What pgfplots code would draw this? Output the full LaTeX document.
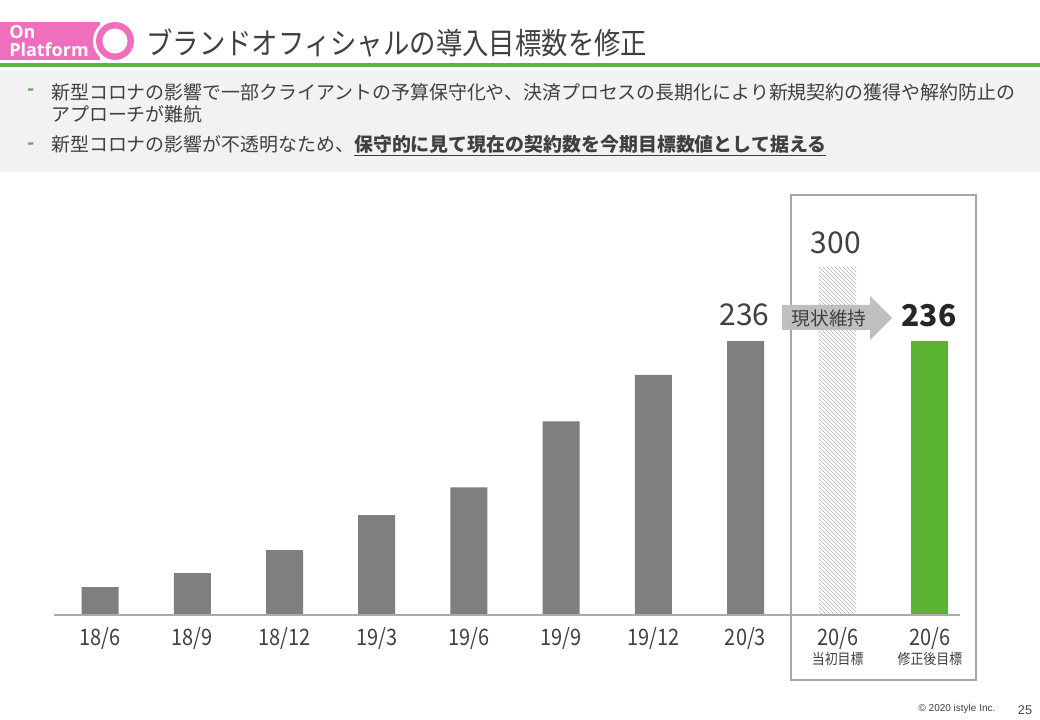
\documentclass[border=0pt]{standalone}
\usepackage{fontspec}
\usepackage{pgfplots}
\pgfplotsset{compat=1.18}
\usetikzlibrary{patterns}
\setmainfont{Noto Sans CJK JP}
\newfontfamily\titlefont[FakeStretch=0.88]{Noto Sans CJK JP}
\newfontfamily\narrowfont[FakeStretch=0.88]{Noto Sans CJK JP}
\newfontfamily\logofont{Open Sans}
\newfontfamily\arialfont{Liberation Sans}
\definecolor{pinkc}{RGB}{240,110,190}
\definecolor{greenline}{RGB}{100,175,80}
\definecolor{greenbar}{RGB}{90,180,50}
\definecolor{graybar}{RGB}{127,127,127}
\definecolor{lightbg}{RGB}{242,242,242}
\definecolor{txt}{RGB}{64,64,64}
\definecolor{boxgray}{RGB}{166,166,166}
\definecolor{hatch}{RGB}{180,180,180}
\definecolor{arrowgray}{RGB}{191,191,191}
\definecolor{basegray}{RGB}{170,170,170}
\newcommand\sublab[1]{{\fontsize{11pt}{13pt}\selectfont #1}}
\begin{document}
\begin{tikzpicture}
\begin{scope}[x=0.75pt,y=-0.75pt]
\fill[white] (0,0) rectangle (1040,720);
% header
\fill[pinkc] (0,22) rectangle (100,60);
\fill[white] (115,41) circle (16.5pt);
\fill[pinkc] (115,41) circle (14.25pt);
\fill[white] (115,41) circle (9.4pt);
\node[anchor=west, text=white, font=\logofont\bfseries\fontsize{13.5pt}{14pt}\selectfont, inner sep=0pt] at (9,32) {On};
\node[anchor=west, text=white, font=\logofont\bfseries\fontsize{13.5pt}{14pt}\selectfont, inner sep=0pt] at (9,50) {Platform};
\node[anchor=west, text=txt, font=\titlefont\fontsize{22.5pt}{26pt}\selectfont, inner sep=0pt] at (146,43) {ブランドオフィシャルの導入目標数を修正};
\draw[greenline, line width=3pt] (0,65) -- (1040,65);
% gray text box
\fill[lightbg] (0,70) rectangle (1040,172);
\node[anchor=west, text=greenline, font=\fontsize{14.2pt}{17pt}\selectfont\bfseries, inner sep=0pt] at (27,92) {-};
\node[anchor=west, text=greenline, font=\fontsize{14.2pt}{17pt}\selectfont\bfseries, inner sep=0pt] at (27,146) {-};
\node[anchor=west, text=txt, font=\fontsize{14.2pt}{17pt}\selectfont, inner sep=0pt] at (51,92) {新型コロナの影響で一部クライアントの予算保守化や、決済プロセスの長期化により新規契約の獲得や解約防止の};
\node[anchor=west, text=txt, font=\fontsize{14.2pt}{17pt}\selectfont, inner sep=0pt] at (51,114) {アプローチが難航};
\node[anchor=west, text=txt, font=\fontsize{14.2pt}{17pt}\selectfont, inner sep=0pt] at (51,146) {新型コロナの影響が不透明なため、\underline{\bfseries 保守的に見て現在の契約数を今期目標数値として据える}};
% highlight box
\draw[boxgray, line width=0.8pt] (791,195) rectangle (976,680);
% footer
\node[text=txt, font=\arialfont\fontsize{7.5pt}{9pt}\selectfont, inner sep=0pt] at (957,709) {© 2020 istyle Inc.};
\node[text=txt, font=\arialfont\fontsize{9.5pt}{11pt}\selectfont, inner sep=0pt] at (1025,710) {25};
\end{scope}
\begin{axis}[
  at={(40.5pt,-461.25pt)}, anchor=south west,
  scale only axis, width=691.5pt, height=348pt,
  xmin=-0.5, xmax=9.5, ymin=0, ymax=400,
  axis line style={draw=none}, ytick=\empty,
  xtick={0,...,9},
  xticklabels={18/6,18/9,18/12,19/3,19/6,19/9,19/12,20/3,{20/6\\[-6pt]\sublab{当初目標}},{20/6\\[-6pt]\sublab{修正後目標}}},
  major tick length=0pt,
  xticklabel style={anchor=north, align=center, inner sep=0pt, yshift=-9.5pt, text=txt, font=\narrowfont\fontsize{17pt}{20pt}\selectfont},
  clip=false,
]
\addplot[ybar, bar width=27.75pt, fill=graybar, draw=none] coordinates {(0,24) (1,36) (2,56) (3,86) (4,110) (5,167) (6,207) (7,236)};
\addplot[ybar, bar width=27.75pt, draw=none, pattern=north west lines, pattern color=hatch] coordinates {(8,300)};
\addplot[ybar, bar width=27.75pt, fill=greenbar, draw=none] coordinates {(9,236)};
\node[text=txt, font=\fontsize{22.5pt}{26pt}\selectfont, inner sep=0pt, yshift=19.5pt, xshift=-0.75pt] at (axis cs:7,236) {236};
\node[text=txt, font=\fontsize{22.5pt}{26pt}\selectfont, inner sep=0pt, yshift=18pt, xshift=-1.5pt] at (axis cs:8,300) {300};
\end{axis}
\begin{scope}[x=0.75pt,y=-0.75pt]
\draw[basegray, line width=1.1pt] (54,615) -- (960,615);
\fill[arrowgray] (782,305) -- (870,305) -- (870,296) -- (892,318) -- (870,340) -- (870,330) -- (782,330) -- cycle;
\node[text=txt, font=\fontsize{14pt}{16pt}\selectfont, inner sep=0pt] at (829,318) {現状維持};
\node[text={rgb,255:red,38;green,38;blue,38}, font=\fontsize{22.5pt}{26pt}\selectfont\bfseries, inner sep=0pt] at (929,316) {236};
\end{scope}
\pgfresetboundingbox
\path[use as bounding box] (0pt,0pt) rectangle (780pt,-540pt);
\end{tikzpicture}
\end{document}
